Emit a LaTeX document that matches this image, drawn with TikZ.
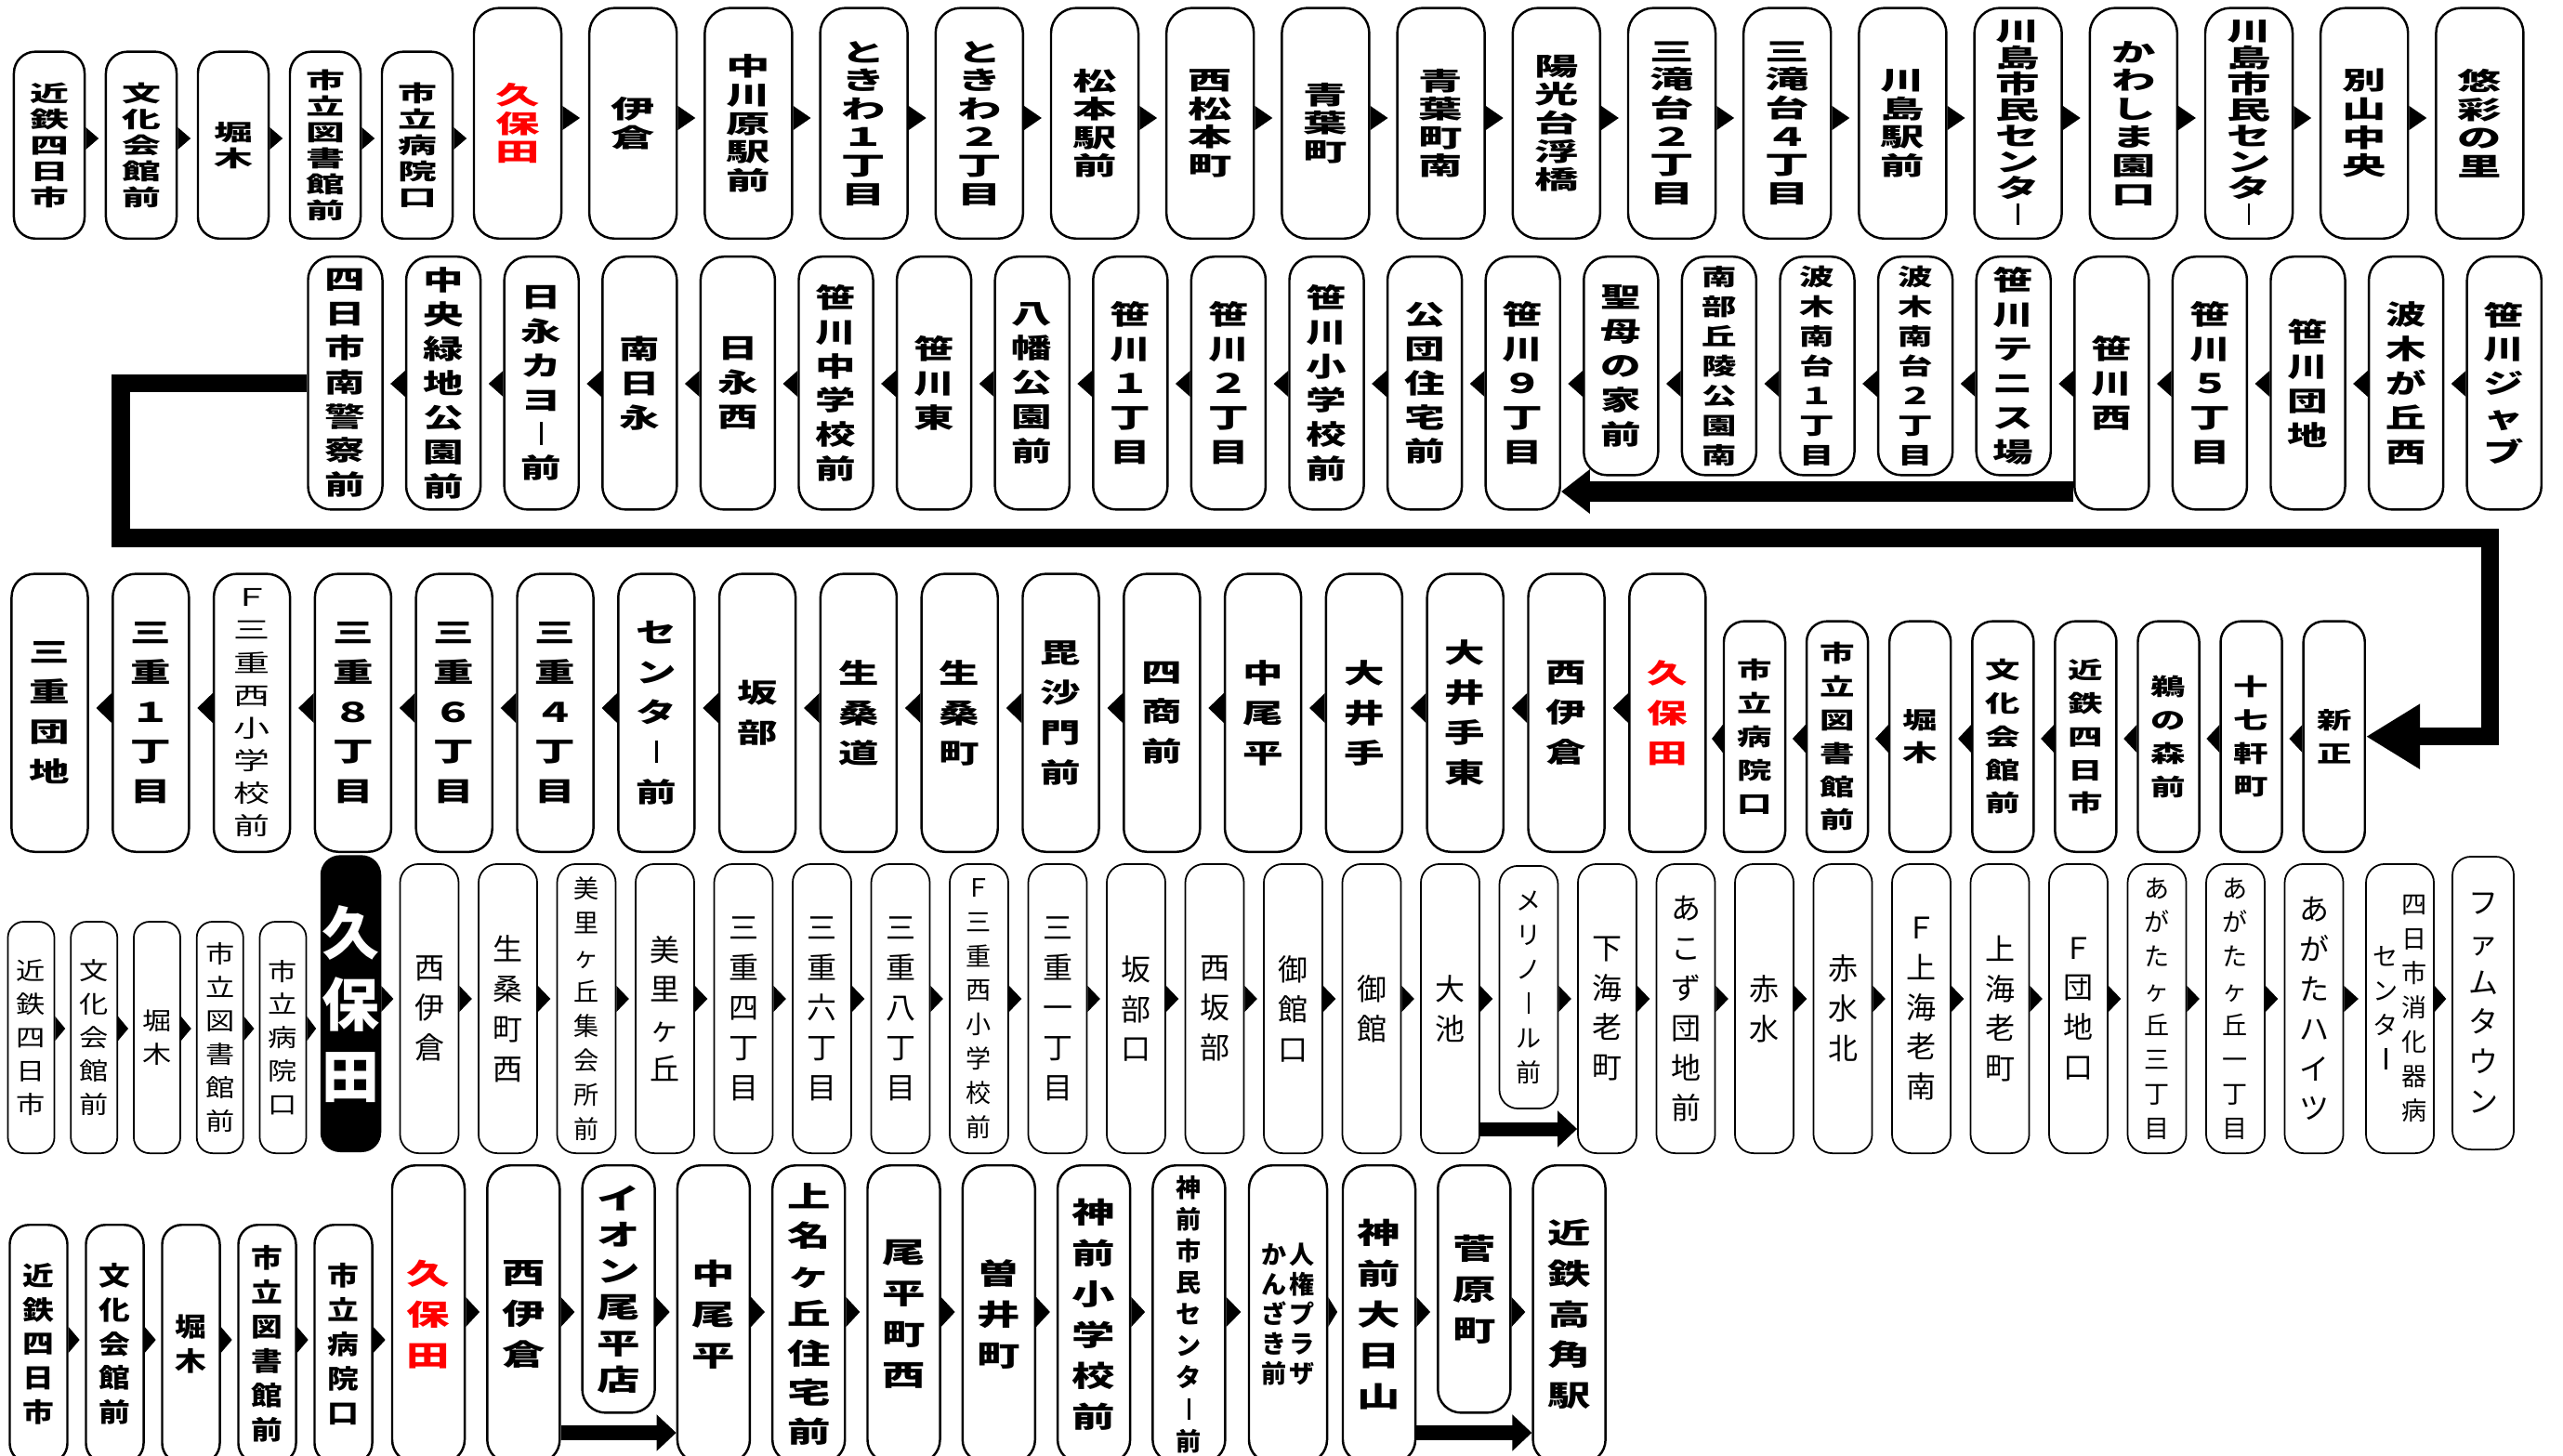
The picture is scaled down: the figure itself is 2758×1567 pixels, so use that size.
\documentclass[tikz,border=0pt]{standalone}
\usepackage{fontspec}
\usepackage{graphicx}
\usetikzlibrary{arrows.meta,calc}
\newfontfamily\jpW{Noto Sans CJK JP}[FakeStretch=1.75]
\newfontfamily\jpM{Noto Sans CJK JP}[FakeStretch=1.5]
\newfontfamily\jpR{Noto Sans CJK JP}[FakeStretch=1.2]
\newfontfamily\jpN{Noto Sans CJK JP}

% vertical label, one character per line
\newdimen\vstw
\def\vstEnd{\vstEnd}
\protected\def\cho{\vphantom{国}\vrule width 0.09em height 0.82em depth 0.04em}
\def\vstA#1{\ifx\vstEnd#1\else\hbox to\vstw{\hss#1\hss}\expandafter\vstA\fi}
\newcommand\vst[1]{\edef\vsttmp{#1}\vbox{\setbox0\hbox{国}\vstw=\wd0 \expandafter\vstA\vsttmp\vstEnd}}
\newcommand\vstt[2]{\hbox{$\vcenter{\vst{#1}}\kern0.03cm\vcenter{\vst{#2}}$}}

% small triangles between stops
\newcommand\arR[4]{\fill ($(#1.east |- 0,#3)+(0,-#4)$) -- ($(#1.east |- 0,#3)!0.68!(#2.west |- 0,#3)$) -- ($(#1.east |- 0,#3)+(0,#4)$) -- cycle;}
\newcommand\arL[4]{\fill ($(#1.west |- 0,#3)+(0,-#4)$) -- ($(#1.west |- 0,#3)!0.68!(#2.east |- 0,#3)$) -- ($(#1.west |- 0,#3)+(0,#4)$) -- cycle;}

\begin{document}
\begin{tikzpicture}[x=0.01cm, y=-0.01cm,
    stop/.style={draw, line width=0.7pt, fill=white, inner sep=0pt},
    r1s/.style={stop, anchor=south, minimum width=0.76cm, minimum height=2.01cm, rounded corners=0.23cm, font=\jpW\bfseries\fontsize{6.8}{8}\selectfont},
    r1t/.style={stop, anchor=south, minimum width=0.94cm, minimum height=2.48cm, rounded corners=0.27cm, font=\jpW\bfseries\fontsize{7.7}{8.7}\selectfont},
    r2t/.style={stop, anchor=north, minimum width=0.80cm, minimum height=2.72cm, rounded corners=0.25cm, font=\jpM\bfseries\fontsize{8.25}{10.5}\selectfont},
    r2s/.style={r2t, minimum height=2.35cm},
    r2n/.style={font=\jpM\bfseries\fontsize{7.1}{9.1}\selectfont},
    r3t/.style={stop, anchor=south, minimum width=0.82cm, minimum height=2.99cm, rounded corners=0.25cm, font=\jpM\bfseries\fontsize{8.25}{12.2}\selectfont},
    r3s/.style={stop, anchor=south, minimum width=0.66cm, minimum height=2.48cm, rounded corners=0.22cm, font=\jpM\bfseries\fontsize{7.1}{10.2}\selectfont},
    r4t/.style={stop, line width=0.5pt, anchor=south, minimum width=0.63cm, minimum height=3.11cm, rounded corners=0.2cm, font=\jpN\fontsize{9.1}{12.2}\selectfont},
    r4n/.style={font=\jpN\fontsize{7.7}{10.5}\selectfont},
    r4s/.style={stop, line width=0.5pt, anchor=south, minimum width=0.50cm, minimum height=2.49cm, rounded corners=0.17cm, font=\jpR\fontsize{7.4}{10.2}\selectfont},
    r4k/.style={stop, fill=black, text=white, anchor=south, minimum width=0.63cm, minimum height=3.17cm, rounded corners=0.2cm, font=\jpN\bfseries\fontsize{17.6}{21.9}\selectfont},
    r5t/.style={stop, anchor=north, minimum width=0.78cm, minimum height=3.2cm, rounded corners=0.25cm, font=\jpM\bfseries\fontsize{8.8}{12.5}\selectfont},
    r5s/.style={stop, anchor=north, minimum width=0.62cm, minimum height=2.56cm, rounded corners=0.21cm, font=\jpR\bfseries\fontsize{8}{10.5}\selectfont},
    route/.style={line width=0.19cm, -{Triangle[length=0.58cm,width=0.66cm]}},
    jump/.style={line width=0.16cm, -{Triangle[length=0.21cm,width=0.38cm]}},
    jump2/.style={line width=0.22cm, -{Triangle[length=0.31cm,width=0.46cm]}}
  ]
  \fill[white] (0,0) rectangle (2758,1567);
  \useasboundingbox (0,0) rectangle (2758,1567);

  % row 1, left to right
  \foreach \lab [count=\i] in {近鉄四日市,文化会館前,堀木,市立図書館前,市立病院口}
    \node[r1s] (r1-\i) at ({53+99*(\i-1)},258) {\vst{\lab}};
  \node[r1t, text=red] (r1-6) at (557,258) {\vst{久保田}};
  \foreach \lab/\bs [count=\i from 7] in {伊倉/8.7,中川原駅前/8.7,ときわ１丁目/8.7,ときわ２丁目/8.7,松本駅前/8.7,西松本町/8.7,青葉町/8.7,青葉町南/8.7,陽光台浮橋/8.7,三滝台２丁目/8.7,三滝台４丁目/8.7,川島駅前/8.7,川島市民センタ\cho/8,かわしま園口/8.7,川島市民センタ\cho/8,別山中央/8.7,悠彩の里/8.7}
    \node[r1t, font=\jpW\bfseries\fontsize{7.7}{\bs}\selectfont] (r1-\i) at ({557+124.2*(\i-6)},258) {\vst{\lab}};
  \foreach \i in {1,...,5}{\pgfmathtruncatemacro\j{\i+1}\arR{r1-\i}{r1-\j}{149}{12}}
  \foreach \i in {6,...,22}{\pgfmathtruncatemacro\j{\i+1}\arR{r1-\i}{r1-\j}{127}{13}}

  % row 2, right to left
  \foreach \lab [count=\i] in {四日市南警察前,中央緑地公園前,日永カヨ\cho 前,南日永,日永西,笹川中学校前,笹川東,八幡公園前,笹川１丁目,笹川２丁目,笹川小学校前,公団住宅前,笹川９丁目}
    \node[r2t] (r2-\i) at ({371.5+105.6*(\i-1)},275) {\vst{\lab}};
  \node[r2s] (r2-14) at ({371.5+105.6*13},275) {\vst{聖母の家前}};
  \foreach \lab [count=\i from 15] in {南部丘陵公園南,波木南台１丁目,波木南台２丁目}
    \node[r2s, r2n] (r2-\i) at ({371.5+105.6*(\i-1)},275) {\vst{\lab}};
  \node[r2s] (r2-18) at ({371.5+105.6*17},275) {\vst{笹川テニス場}};
  \foreach \lab [count=\i from 19] in {笹川西,笹川５丁目,笹川団地,波木が丘西,笹川ジャブ}
    \node[r2t] (r2-\i) at ({371.5+105.6*(\i-1)},275) {\vst{\lab}};
  \foreach \i in {2,...,23}{\pgfmathtruncatemacro\j{\i-1}\arL{r2-\i}{r2-\j}{413}{14}}
  \draw[jump2] (r2-19.west |- 0,529) -- (r2-13.east |- 0,529);

  % row 3, right to left
  \foreach \lab [count=\i] in {三重団地,三重１丁目}
    \node[r3t] (r3-\i) at ({53.5+108.8*(\i-1)},918) {\vst{\lab}};
  \node[r3t, font=\jpM\fontsize{7.4}{10}\selectfont] (r3-3) at ({53.5+108.8*2},918) {\vst{Ｆ三重西小学校前}};
  \foreach \lab [count=\i from 4] in {三重８丁目,三重６丁目,三重４丁目,センタ\cho 前,坂部,生桑道,生桑町,毘沙門前,四商前,中尾平,大井手,大井手東,西伊倉}
    \node[r3t] (r3-\i) at ({53.5+108.8*(\i-1)},918) {\vst{\lab}};
  \node[r3t, text=red] (r3-17) at ({53.5+108.8*16},918) {\vst{久保田}};
  \foreach \lab [count=\i from 18] in {市立病院口,市立図書館前,堀木,文化会館前,近鉄四日市,鵜の森前,十七軒町,新正}
    \node[r3s] (r3-\i) at ({1888+89.1*(\i-18)},918) {\vst{\lab}};
  \foreach \i in {2,...,17}{\pgfmathtruncatemacro\j{\i-1}\arL{r3-\i}{r3-\j}{762}{16}}
  \foreach \i in {18,...,25}{\pgfmathtruncatemacro\j{\i-1}\arL{r3-\i}{r3-\j}{795}{15}}

  % turn from row 2 into row 3
  \draw[route] (r2-1.west) -| (130,579) -| ($(r3-25.east)+(134,0)$) -- (r3-25.east);

  % row 4, left to right
  \foreach \lab [count=\i] in {近鉄四日市,文化会館前,堀木,市立図書館前,市立病院口}
    \node[r4s] (r4-\i) at ({33.5+67.75*(\i-1)},1242) {\vst{\lab}};
  \node[r4k] (r4-6) at (377.5,1240) {\vst{久保田}};
  \foreach \lab/\fs/\bs [count=\i from 7] in {西伊倉/9.1/12.2,生桑町西/9.1/12.2,美里ヶ丘集会所前/7.7/10.5,美里ヶ丘/9.1/12.2,三重四丁目/9.1/12.2,三重六丁目/9.1/12.2,三重八丁目/9.1/12.2,Ｆ三重西小学校前/7.7/10.5,三重一丁目/9.1/12.2,坂部口/9.1/12.2,西坂部/9.1/12.2,御館口/9.1/12.2,御館/9.1/12.2,大池/9.1/12.2}
    \node[r4t, font=\jpN\fontsize{\fs}{\bs}\selectfont] (r4-\i) at ({377.5+84.5*(\i-6)},1242) {\vst{\lab}};
  \node[r4t, r4n, anchor=north, minimum height=2.61cm] (r4-21) at ({377.5+84.5*15},931) {\vst{メリノ\cho ル前}};
  \foreach \lab/\fs/\bs [count=\i from 22] in {下海老町/9.1/12.2,あこず団地前/9.1/12.2,赤水/9.1/12.2,赤水北/9.1/12.2,Ｆ上海老南/9.1/12.2,上海老町/9.1/12.2,Ｆ団地口/9.1/12.2,あがたヶ丘三丁目/7.7/10.5,あがたヶ丘一丁目/7.7/10.5,あがたハイツ/9.1/12.2}
    \node[r4t, font=\jpN\fontsize{\fs}{\bs}\selectfont] (r4-\i) at ({377.5+84.5*(\i-6)},1242) {\vst{\lab}};
  \node[r4t, r4n, minimum width=0.73cm] (r4-32) at (2582.5,1242) {\vstt{センタ\cho}{四日市消化器病}};
  \node[r4t, minimum width=0.66cm, minimum height=3.15cm] (r4-33) at (2672,1238) {\vst{ファムタウン}};
  \foreach \i in {1,...,5}{\pgfmathtruncatemacro\j{\i+1}\arR{r4-\i}{r4-\j}{1107}{13}}
  \foreach \i in {6,...,32}{\pgfmathtruncatemacro\j{\i+1}\arR{r4-\i}{r4-\j}{1075}{14}}
  \draw[jump, line width=0.15cm] (r4-20.east |- 0,1215) -- (r4-22.west |- 0,1215);

  % row 5, left to right
  \foreach \lab [count=\i] in {近鉄四日市,文化会館前,堀木,市立図書館前,市立病院口}
    \node[r5s] (r5-\i) at ({41.5+82*(\i-1)},1317) {\vst{\lab}};
  \node[r5t, text=red] (r5-6) at (461,1253) {\vst{久保田}};
  \node[r5t] (r5-7) at ({461+102.3},1253) {\vst{西伊倉}};
  \node[r5t, minimum height=2.66cm, font=\jpM\bfseries\fontsize{8.8}{11.1}\selectfont] (r5-8) at ({461+102.3*2},1253) {\vst{イオン尾平店}};
  \node[r5t] (r5-9) at ({461+102.3*3},1253) {\vst{中尾平}};
  \node[r5t, font=\jpM\bfseries\fontsize{8.8}{12}\selectfont] (r5-10) at ({461+102.3*4},1253) {\vst{上名ヶ丘住宅前}};
  \foreach \lab [count=\i from 11] in {尾平町西,曽井町,神前小学校前}
    \node[r5t] (r5-\i) at ({461+102.3*(\i-6)},1253) {\vst{\lab}};
  \node[r5t, font=\jpN\bfseries\fontsize{7.7}{9.7}\selectfont] (r5-14) at ({461+102.3*8},1253) {\vst{神前市民センタ\cho 前}};
  \node[r5t, minimum width=0.84cm, font=\jpN\bfseries\fontsize{7.7}{9.1}\selectfont] (r5-15) at (1386,1253) {\vstt{かんざき前}{人権プラザ}};
  \node[r5t] (r5-16) at ({461+102.3*10},1253) {\vst{神前大日山}};
  \node[r5t, minimum height=2.66cm] (r5-17) at ({461+102.3*11},1253) {\vst{菅原町}};
  \node[r5t] (r5-18) at ({461+102.3*12},1253) {\vst{近鉄高角駅}};
  \foreach \i in {1,...,5}{\pgfmathtruncatemacro\j{\i+1}\arR{r5-\i}{r5-\j}{1442}{14}}
  \foreach \i in {6,...,17}{\pgfmathtruncatemacro\j{\i+1}\arR{r5-\i}{r5-\j}{1412}{16}}
  \draw[jump] (r5-7.east |- 0,1542) -- (r5-9.west |- 0,1542);
  \draw[jump] (r5-16.east |- 0,1542) -- (r5-18.west |- 0,1542);
\end{tikzpicture}
\end{document}
